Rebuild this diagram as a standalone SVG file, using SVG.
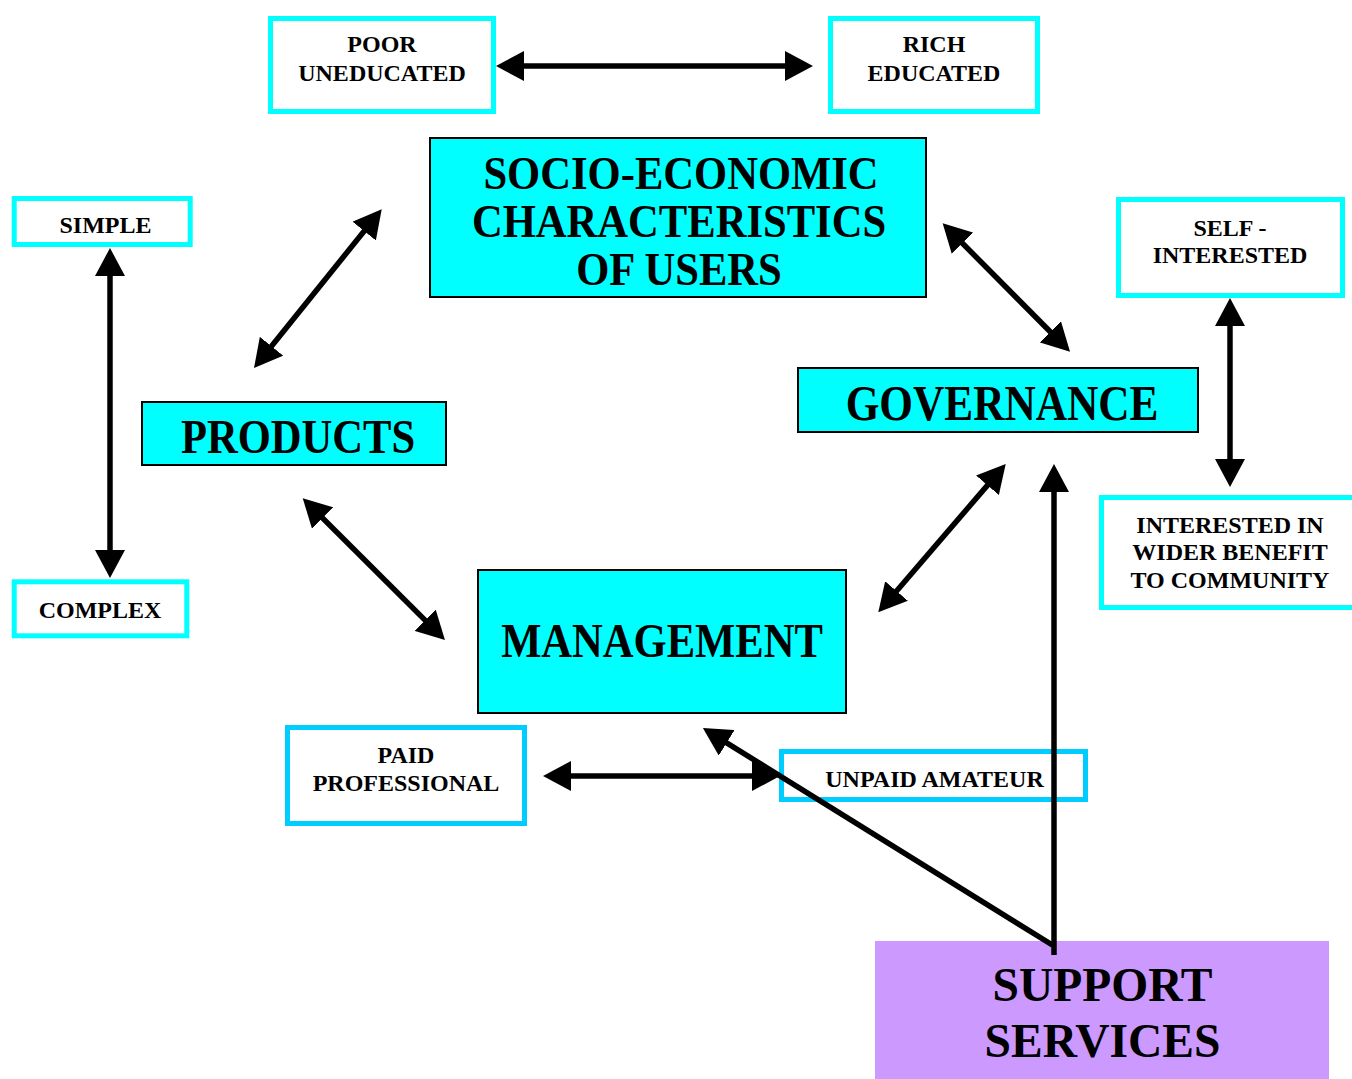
<svg xmlns="http://www.w3.org/2000/svg" width="1352" height="1079" viewBox="0 0 1352 1079">
<style>
.ob{fill:#ffffff;stroke:#00ffff;stroke-width:5}
.ob2{fill:#ffffff;stroke:#00ccff;stroke-width:5}
.fb{fill:#00ffff;stroke:#000000;stroke-width:2}
.t{font-family:"Liberation Serif","Times New Roman",serif;font-weight:bold;fill:#000;text-anchor:middle}
.s{font-size:24px}
.b{font-size:42.6px}
.c{stroke:#000;stroke-width:5.5;fill:none}
</style>
<defs>
<marker id="ah" markerUnits="userSpaceOnUse" viewBox="0 0 28 30" markerWidth="28" markerHeight="30" refX="20" refY="15" orient="auto-start-reverse">
<path d="M0,0 L28,15 L0,30 z" fill="#000"/>
</marker>
</defs>
<rect width="1352" height="1079" fill="#ffffff"/>

<g id="poor">
<rect class="ob" x="270.5" y="18.5" width="223" height="93"/>
<text class="t s" x="382" y="52">POOR</text>
<text class="t s" x="382" y="81">UNEDUCATED</text>
</g>
<g id="rich">
<rect class="ob" x="830.5" y="18.5" width="207" height="93"/>
<text class="t s" x="934" y="52">RICH</text>
<text class="t s" x="934" y="81">EDUCATED</text>
</g>
<g id="simple">
<rect class="ob" x="14.2" y="198.5" width="176" height="46"/>
<text class="t s" x="105.5" y="232.5">SIMPLE</text>
</g>
<g id="complex">
<rect class="ob" x="14.2" y="581.8" width="172.6" height="54"/>
<text class="t s" x="100" y="617.5">COMPLEX</text>
</g>
<g id="self">
<rect class="ob" x="1118.5" y="199.5" width="224" height="96"/>
<text class="t s" x="1230" y="235.5">SELF -</text>
<text class="t s" x="1230" y="263.3">INTERESTED</text>
</g>
<g id="wider">
<rect class="ob" x="1101.5" y="497.5" width="262" height="110"/>
<text class="t s" x="1230" y="532.7">INTERESTED IN</text>
<text class="t s" x="1230" y="560">WIDER BENEFIT</text>
<text class="t s" x="1230" y="588.3">TO COMMUNITY</text>
</g>
<g id="paid">
<rect class="ob2" x="287.5" y="727.5" width="237" height="96"/>
<text class="t s" x="406" y="763.3">PAID</text>
<text class="t s" x="406" y="790.7">PROFESSIONAL</text>
</g>
<g id="unpaid">
<rect class="ob2" x="781.5" y="751.5" width="304" height="48"/>
<text class="t s" x="934.5" y="786.7">UNPAID AMATEUR</text>
</g>
<g id="socio">
<rect class="fb" x="430" y="138" width="496" height="159"/>
<text class="t b" transform="translate(681 189) scale(1 1.07)">SOCIO-ECONOMIC</text>
<text class="t b" transform="translate(679 237) scale(1 1.07)">CHARACTERISTICS</text>
<text class="t b" transform="translate(679 285) scale(1 1.07)">OF USERS</text>
</g>
<g id="governance">
<rect class="fb" x="798" y="368" width="400" height="64"/>
<text class="t b" style="font-size:43.3px" transform="translate(1002 420) scale(1 1.16)">GOVERNANCE</text>
</g>
<g id="products">
<rect class="fb" x="142" y="402" width="304" height="63"/>
<text class="t b" transform="translate(298 453) scale(1 1.14)">PRODUCTS</text>
</g>
<g id="management">
<rect class="fb" x="478" y="570" width="368" height="143"/>
<text class="t b" transform="translate(662 657) scale(1 1.14)">MANAGEMENT</text>
</g>
<g id="support">
<rect x="875" y="941" width="454" height="140" fill="#cc99ff"/>
<text class="t" style="font-size:47.5px" x="1102.5" y="1001">SUPPORT</text>
<text class="t" style="font-size:47.5px" x="1102.5" y="1057">SERVICES</text>
</g>

<g id="connectors">
<path class="c" d="M504,66 L805,66" marker-start="url(#ah)" marker-end="url(#ah)"/>
<path class="c" d="M110,256 L110,570" marker-start="url(#ah)" marker-end="url(#ah)"/>
<path class="c" d="M1230,306 L1230,479" marker-start="url(#ah)" marker-end="url(#ah)"/>
<path class="c" d="M376.7,215.5 L259,361.8" marker-start="url(#ah)" marker-end="url(#ah)"/>
<path class="c" d="M948.3,229 L1064.4,346" marker-start="url(#ah)" marker-end="url(#ah)"/>
<path class="c" d="M308.4,503.9 L439.3,634.4" marker-start="url(#ah)" marker-end="url(#ah)"/>
<path class="c" d="M1000.5,470.1 L883.5,606.2" marker-start="url(#ah)" marker-end="url(#ah)"/>
<path class="c" d="M551,776 L772,776" marker-start="url(#ah)" marker-end="url(#ah)"/>
<path class="c" d="M1054,955 L1054,472" marker-end="url(#ah)"/>
<path class="c" d="M1054,946 L709.7,732.3" marker-end="url(#ah)"/>
</g>
</svg>
